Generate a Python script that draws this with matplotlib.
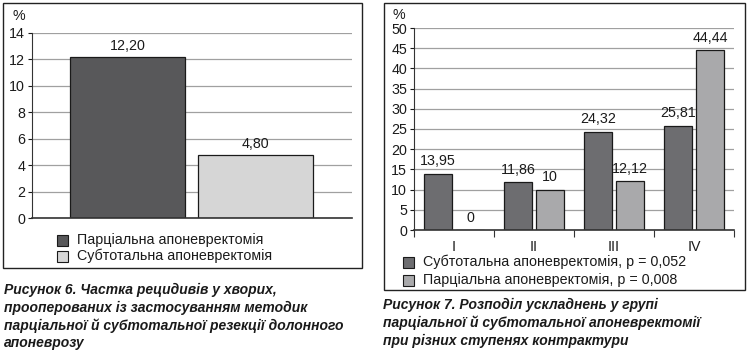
import matplotlib.pyplot as plt
from matplotlib.patches import Rectangle

plt.rcParams['font.family'] = ['Liberation Sans', 'DejaVu Sans']

# figure 6 data
fig6_labels = ['Парціальна апоневректомія', 'Субтотальна апоневректомія']
fig6_values = [12.20, 4.80]
fig6_text = ['12,20', '4,80']
fig6_colors = ['#58585a', '#d6d6d6']

# figure 7 data
stages = ['I', 'II', 'III', 'IV']
subtotal = [13.95, 11.86, 24.32, 25.81]
partial = [0, 10, 12.12, 44.44]
subtotal_text = ['13,95', '11,86', '24,32', '25,81']
partial_text = ['0', '10', '12,12', '44,44']
fig7_labels = ['Субтотальна апоневректомія, p = 0,052', 'Парціальна апоневректомія, p = 0,008']
fig7_colors = ['#6d6d70', '#a9a9ab']

caption6 = ('Рисунок 6. Частка рецидивів у хворих,\n'
            'прооперованих із застосуванням методик\n'
            'парціальної й субтотальної резекції долонного\n'
            'апоневрозу')
caption7 = ('Рисунок 7. Розподіл ускладнень у групі\n'
            'парціальної й субтотальної апоневректомії\n'
            'при різних ступенях контрактури')

FS = 10.3
W, H = 749, 354
fig = plt.figure(figsize=(W / 100, H / 100), dpi=100)


def box(x0, y0, x1, y1):
    # pixel coords (top-left origin) -> figure fraction
    return [x0 / W, 1 - y1 / H, (x1 - x0) / W, (y1 - y0) / H]


def fx(x):
    return x / W


def fy(y):
    return 1 - y / H


# outer frames
for (x0, y0, x1, y1) in [(3, 3, 362, 268), (384, 3, 745, 290)]:
    fig.patches.append(Rectangle((x0 / W, 1 - y1 / H), (x1 - x0) / W, (y1 - y0) / H,
                                 transform=fig.transFigure, fill=False,
                                 edgecolor='#222222', linewidth=1.0))


def style_axes(ax):
    ax.set_facecolor('none')
    for s in ['top', 'right']:
        ax.spines[s].set_visible(False)
    ax.spines['left'].set_color('#333333')
    ax.spines['bottom'].set_color('#333333')
    ax.spines['bottom'].set_linewidth(1.2)
    ax.yaxis.grid(True, color='#a0a0a0', linewidth=0.9)
    ax.set_axisbelow(True)
    ax.tick_params(axis='y', length=3, width=0.8, labelsize=FS, pad=2, colors='#1a1a1a')


# ---- Figure 6 ----
ax1 = fig.add_axes(box(32, 33, 352, 218))
style_axes(ax1)
pos6 = [0, 1]
ax1.bar(pos6, fig6_values, width=0.9, color=fig6_colors, edgecolor='#1a1a1a', linewidth=0.9)
for p, v, t in zip(pos6, fig6_values, fig6_text):
    ax1.text(p, v + 0.3, t, ha='center', va='bottom', fontsize=FS, color='#1a1a1a')
ax1.set_ylim(0, 14)
ax1.set_yticks(range(0, 15, 2))
ax1.set_xlim(-0.746, 1.754)
ax1.set_xticks([])
fig.text(fx(19), fy(16), '%', ha='center', va='center', fontsize=FS, color='#1a1a1a')

for i, (lab, col) in enumerate(zip(fig6_labels, fig6_colors)):
    yc = 240 + i * 16
    fig.patches.append(Rectangle((fx(57), fy(yc + 5.5)), 11 / W, 11 / H, transform=fig.transFigure,
                                 facecolor=col, edgecolor='#1a1a1a', linewidth=0.8))
    fig.text(fx(77), fy(yc), lab, ha='left', va='center', fontsize=FS, color='#1a1a1a')

# ---- Figure 7 ----
ax2 = fig.add_axes(box(414, 28, 734, 230))
style_axes(ax2)
xs = list(range(len(stages)))
bw = 0.36
off = 0.2
ax2.bar([x - off for x in xs], subtotal, width=bw, color=fig7_colors[0],
        edgecolor='#1a1a1a', linewidth=0.9)
ax2.bar([x + off for x in xs], partial, width=bw, color=fig7_colors[1],
        edgecolor='#1a1a1a', linewidth=0.9)
for x, v, t in zip(xs, subtotal, subtotal_text):
    ax2.text(x - off, v + 1.3, t, ha='center', va='bottom', fontsize=FS, color='#1a1a1a')
for x, v, t in zip(xs, partial, partial_text):
    ax2.text(x + off, v + 1.3, t, ha='center', va='bottom', fontsize=FS, color='#1a1a1a')
ax2.set_ylim(0, 50)
ax2.set_yticks(range(0, 51, 5))
ax2.set_xlim(-0.5, len(stages) - 0.5)
ax2.set_xticks([x - 0.5 for x in range(len(stages) + 1)])
ax2.set_xticklabels([])
ax2.tick_params(axis='x', length=5, width=0.8, direction='out', colors='#333333')
for x, s in zip(xs, stages):
    ax2.text(x, -2.5, s, ha='center', va='top', fontsize=FS, color='#1a1a1a')
fig.text(fx(399), fy(15), '%', ha='center', va='center', fontsize=FS, color='#1a1a1a')

for i, (lab, col) in enumerate(zip(fig7_labels, fig7_colors)):
    yc = 262 + i * 18
    fig.patches.append(Rectangle((fx(403), fy(yc + 5.5)), 11 / W, 11 / H, transform=fig.transFigure,
                                 facecolor=col, edgecolor='#1a1a1a', linewidth=0.8))
    fig.text(fx(423), fy(yc), lab, ha='left', va='center', fontsize=FS, color='#1a1a1a')

# captions
fig.text(fx(4), fy(283), caption6, ha='left', va='top', fontsize=10, fontweight='bold',
         fontstyle='italic', linespacing=1.3, color='#1a1a1a')
fig.text(fx(383), fy(298), caption7, ha='left', va='top', fontsize=10, fontweight='bold',
         fontstyle='italic', linespacing=1.3, color='#1a1a1a')

fig.savefig('out.png', dpi=100, facecolor='white')
